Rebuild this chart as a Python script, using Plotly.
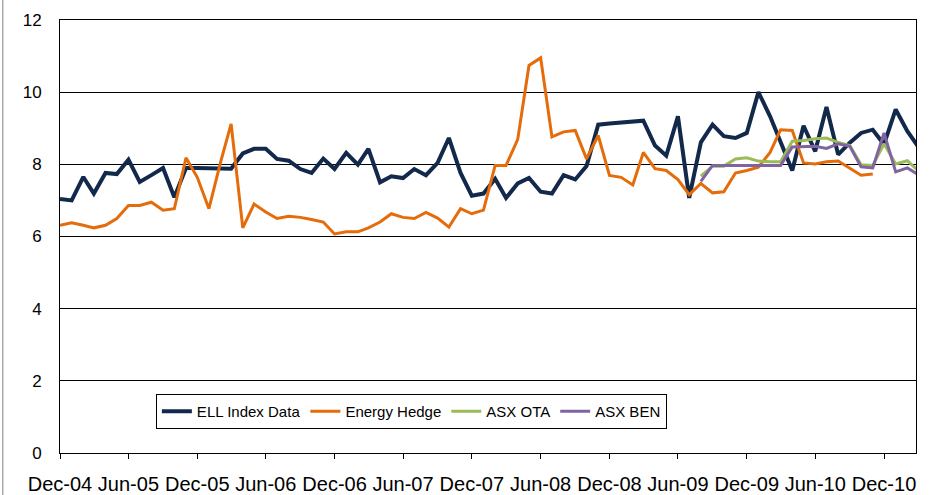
import pandas as pd
import plotly.graph_objects as go

# Monthly dates Dec-04 .. Mar-11
months = pd.date_range("2004-12-01", periods=76, freq="MS")

ell_index = [7.04, 7.00, 7.65, 7.19, 7.76, 7.73, 8.13, 7.51, 7.70, 7.90,
             7.09, 7.90, 7.90, 7.90, 7.90, 7.88, 8.30, 8.43, 8.43, 8.15,
             8.10, 7.87, 7.76, 8.16, 7.87, 8.32, 7.99, 8.43, 7.50, 7.67,
             7.62, 7.87, 7.70, 8.04, 8.73, 7.76, 7.13, 7.19, 7.60, 7.07,
             7.47, 7.62, 7.24, 7.19, 7.70, 7.58, 7.95, 9.10, 9.13, 9.16,
             9.18, 9.21, 8.52, 8.24, 9.33, 7.07, 8.61, 9.10, 8.78, 8.73,
             8.87, 10.00, 9.33, 8.61, 7.83, 9.07, 8.36, 9.59, 8.27, 8.60,
             8.87, 8.96, 8.55, 9.52, 8.92, 8.50]

energy_hedge = [6.31, 6.38, 6.31, 6.24, 6.31, 6.50, 6.86, 6.86, 6.95, 6.73,
                6.77, 8.18, 7.64, 6.77, 8.06, 9.12, 6.24, 6.90, 6.68, 6.50,
                6.56, 6.53, 6.47, 6.40, 6.07, 6.13, 6.13, 6.24, 6.40, 6.63,
                6.53, 6.50, 6.67, 6.51, 6.26, 6.77, 6.63, 6.73, 7.97, 7.97,
                8.69, 10.74, 10.95, 8.76, 8.90, 8.94, 8.15, 8.80, 7.69, 7.64,
                7.43, 8.33, 7.88, 7.83, 7.58, 7.16, 7.47, 7.21, 7.24, 7.76,
                7.83, 7.92, 8.33, 8.96, 8.94, 8.04, 8.01, 8.07, 8.09, 7.90,
                7.70, 7.73]

asx_start = 56  # Aug-09
asx_ota = [7.67, 7.95, 7.95, 8.15, 8.18, 8.09, 8.07, 8.07, 8.64, 8.66,
           8.71, 8.73, 8.61, 8.52, 7.99, 7.97, 8.57, 8.01, 8.10, 7.83]
asx_ben = [7.53, 7.97, 7.97, 7.97, 7.97, 7.97, 7.97, 7.97, 8.48, 8.50,
           8.50, 8.44, 8.57, 8.50, 7.93, 7.90, 8.87, 7.79, 7.90, 7.72]

y_ticks = [0, 2, 4, 6, 8, 10, 12]

fig = go.Figure()
fig.add_trace(go.Scatter(x=months[:len(ell_index)], y=ell_index, mode="lines",
                         name="ELL Index Data",
                         line=dict(color="#13294B", width=4)))
fig.add_trace(go.Scatter(x=months[:len(energy_hedge)], y=energy_hedge, mode="lines",
                         name="Energy Hedge",
                         line=dict(color="#E46C0A", width=3)))
fig.add_trace(go.Scatter(x=months[asx_start:asx_start + len(asx_ota)], y=asx_ota,
                         mode="lines", name="ASX OTA",
                         line=dict(color="#9BBB59", width=3)))
fig.add_trace(go.Scatter(x=months[asx_start:asx_start + len(asx_ben)], y=asx_ben,
                         mode="lines", name="ASX BEN",
                         line=dict(color="#8064A2", width=3)))

fig.update_layout(
    width=929, height=495,
    margin=dict(l=60, r=13, t=20, b=42, autoexpand=False),
    paper_bgcolor="white", plot_bgcolor="white",
    font=dict(family="Liberation Sans, Arial, sans-serif", color="black"),
    showlegend=True,
    legend=dict(
        orientation="h",
        x=0.112, xanchor="left",
        y=0.096, yanchor="middle",
        bgcolor="white",
        bordercolor="#000000", borderwidth=1,
        font=dict(family="Liberation Sans, Arial", size=15, color="black"),
        itemwidth=30,
    ),
)

fig.update_xaxes(
    type="date", automargin=False,
    range=["2004-12-01", "2011-02-24"],
    tick0="2004-12-01", dtick="M6", tickformat="%b-%y",
    ticks="outside", ticklen=5, tickcolor="black", tickwidth=1,
    showline=True, linecolor="black", linewidth=1, mirror=True,
    showgrid=False, zeroline=False,
    tickfont=dict(size=20, family="Liberation Sans, Arial"),
    ticklabelstandoff=8,
)
fig.update_yaxes(
    range=[0, 12], tickvals=y_ticks, automargin=False,
    showgrid=True, gridcolor="black", gridwidth=1,
    showline=True, linecolor="black", linewidth=1, mirror=True,
    zeroline=False, ticks="",
    tickfont=dict(size=17, family="Liberation Sans, Arial"),
    ticklabelstandoff=14,
)

# outer chart-area border edge visible at the left
fig.add_shape(type="line", xref="paper", yref="paper",
              x0=-0.0668, x1=-0.0668, y0=-0.1, y1=1.05,
              line=dict(color="#808080", width=1))

fig.write_html("out.html",
               config={"displayModeBar": False},
               post_script="document.body.style.margin='0';document.body.style.overflow='hidden';")
